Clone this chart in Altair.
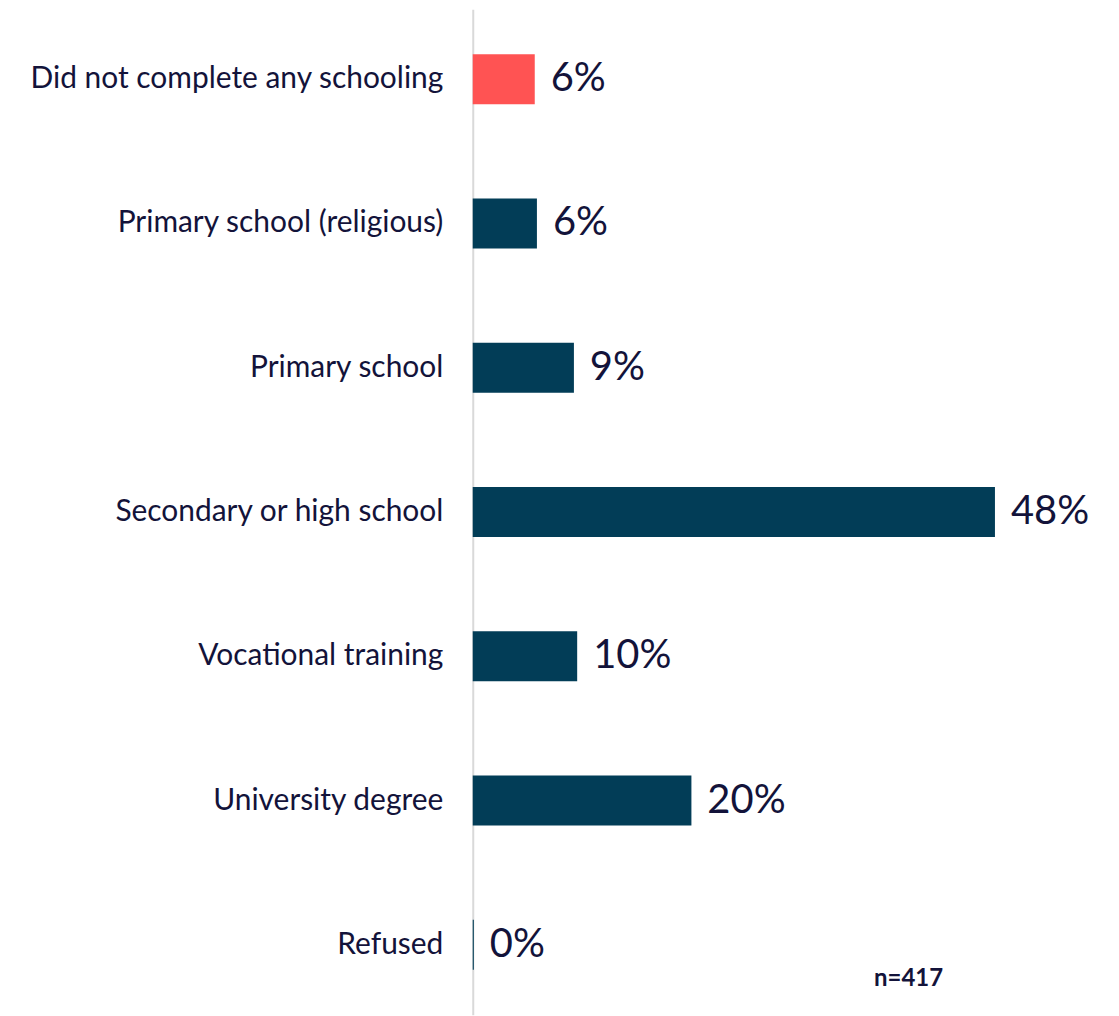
import altair as alt
import pandas as pd

categories = [
    "Did not complete any schooling",
    "Primary school (religious)",
    "Primary school",
    "Secondary or high school",
    "Vocational training",
    "University degree",
    "Refused",
]
values = [5.7, 5.9, 9.3, 48.0, 9.6, 20.1, 0.1]
highlight = ["yes", "no", "no", "no", "no", "no", "no"]
note = "n=417"

df = pd.DataFrame({"cat": categories, "pct": values, "hl": highlight})

FONT = "Lato"
TEXT_COLOR = "#13133a"

y_enc = alt.Y(
    "cat:N",
    sort=categories,
    title=None,
    scale=alt.Scale(paddingInner=0.654, paddingOuter=0.311),
    axis=alt.Axis(
        labelFont=FONT,
        labelFontSize=30,
        labelColor=TEXT_COLOR,
        labelPadding=30,
        labelLimit=0,
        ticks=False,
        domainColor="#d9d9d9",
        domainWidth=2,
        grid=False,
    ),
)

x_enc = alt.X("pct:Q", scale=alt.Scale(domain=[0, 55]), axis=None, title=None)

bars = alt.Chart(df).mark_bar().encode(
    x=x_enc,
    y=y_enc,
    color=alt.Color(
        "hl:N",
        scale=alt.Scale(domain=["yes", "no"], range=["#ff5353", "#023d57"]),
        legend=None,
    ),
)

labels = alt.Chart(df).transform_calculate(
    label="format(datum.pct, '.0f') + '%'"
).mark_text(
    align="left", baseline="middle", dx=16, font=FONT, fontSize=40, color=TEXT_COLOR
).encode(
    x=x_enc,
    y=alt.Y("cat:N", sort=categories),
    text="label:N",
)

note_df = pd.DataFrame({"t": [note]})
note_mark = alt.Chart(note_df).mark_text(
    align="center", baseline="middle", font=FONT, fontSize=24, fontWeight="bold", color=TEXT_COLOR
).encode(
    x=alt.value(437),
    y=alt.value(972),
    text="t:N",
)

chart = alt.layer(bars, labels, note_mark).properties(
    width=600,
    height=1008,
    background="white",
    autosize=alt.AutoSizeParams(type="none"),
    padding={"left": 466, "top": 0, "right": 40, "bottom": 0},
).configure_view(strokeWidth=0, stroke="transparent")

chart.save("out.html", embed_options={"renderer": "svg", "actions": False})
